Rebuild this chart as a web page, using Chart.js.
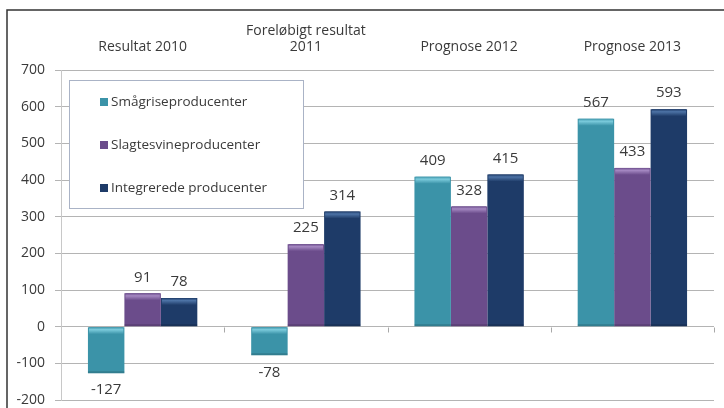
<!DOCTYPE html>
<html>
<head>
<meta charset="utf-8">
<script src="https://cdn.jsdelivr.net/npm/chart.js@4.4.0/dist/chart.umd.min.js"></script>
<style>
  html, body { margin: 0; padding: 0; background: #fff; }
  #wrap { position: relative; width: 724px; height: 408px; }
</style>
</head>
<body>
<div id="wrap"><canvas id="c" width="724" height="408"></canvas></div>
<script>
const categories = ['Resultat 2010', ['Foreløbigt resultat', '2011'], 'Prognose 2012', 'Prognose 2013'];
const seriesNames = ['Smågriseproducenter', 'Slagtesvineproducenter', 'Integrerede producenter'];
const smaagrise = [-127, -78, 409, 567];
const slagtesvine = [91, 225, 328, 433];
const integrerede = [78, 314, 415, 593];
const yTicks = { min: -200, max: 700, step: 100 };
const colors = ['#3b93a8', '#6b4c8b', '#1e3b68'];
const highlights = ['#7ccbdc', '#a588c2', '#4d73a6'];

const FONT = '"Open Sans", "Liberation Sans", sans-serif';
const TEXT = '#3a3a3a';

const framePlugin = {
  id: 'frame',
  beforeDraw(chart) {
    const ctx = chart.ctx;
    ctx.save();
    ctx.fillStyle = '#fff';
    ctx.fillRect(0, 0, chart.width, chart.height);
    ctx.strokeStyle = '#333';
    ctx.lineWidth = 1.5;
    ctx.beginPath();
    ctx.moveTo(7, chart.height);
    ctx.lineTo(7, 10);
    ctx.lineTo(chart.width, 10);
    ctx.stroke();
    ctx.restore();
  },
  afterDatasetsDraw(chart) {
    const ctx = chart.ctx;
    const x = chart.scales.x, y = chart.scales.y;
    const y0 = Math.round(y.getPixelForValue(0)) + 0.5;
    ctx.save();
    chart.data.datasets.forEach((ds, di) => {
      const meta = chart.getDatasetMeta(di);
      meta.data.forEach((bar) => {
        const left = bar.x - bar.width / 2;
        const top = Math.min(bar.y, bar.base);
        const g = ctx.createLinearGradient(0, top, 0, top + 7);
        g.addColorStop(0, colors[di]);
        g.addColorStop(0.35, highlights[di]);
        g.addColorStop(1, colors[di]);
        ctx.fillStyle = g;
        ctx.fillRect(left + 1, top, bar.width - 2, 7);
        const bot = Math.max(bar.y, bar.base);
        ctx.fillStyle = 'rgba(0,0,0,0.15)';
        ctx.fillRect(left, bot - 2, bar.width, 2);
      });
    });
    ctx.strokeStyle = '#a8a8a8';
    ctx.lineWidth = 1;
    const n = categories.length;
    const w = (x.right - x.left) / n;
    ctx.beginPath();
    for (let i = 1; i <= n; i++) {
      const px = Math.round(x.left + i * w) + 0.5;
      ctx.moveTo(px, y0);
      ctx.lineTo(px, y0 + 5);
    }
    ctx.stroke();
    ctx.font = '15px ' + FONT;
    ctx.fillStyle = TEXT;
    ctx.textAlign = 'center';
    ctx.textBaseline = 'middle';
    chart.data.datasets.forEach((ds, di) => {
      const meta = chart.getDatasetMeta(di);
      meta.data.forEach((bar, i) => {
        const v = ds.data[i];
        const yy = v >= 0 ? bar.y - 16 : bar.y + 17;
        ctx.fillText(String(v), bar.x, yy);
      });
    });
    const bx = 69.5, by = 80.5, bw = 234, bh = 128;
    ctx.fillStyle = '#fff';
    ctx.fillRect(bx, by, bw, bh);
    ctx.strokeStyle = '#aab3c6';
    ctx.strokeRect(bx, by, bw, bh);
    const itemY = [102, 145, 188];
    ctx.font = '13.5px ' + FONT;
    ctx.textAlign = 'left';
    chart.data.datasets.forEach((ds, di) => {
      ctx.fillStyle = colors[di];
      ctx.fillRect(100, itemY[di] - 4, 8, 8);
      ctx.fillStyle = TEXT;
      ctx.fillText(ds.label, 111, itemY[di]);
    });
    ctx.restore();
  }
};

new Chart(document.getElementById('c'), {
  type: 'bar',
  data: {
    labels: categories,
    datasets: [
      { label: seriesNames[0], data: smaagrise, backgroundColor: colors[0] },
      { label: seriesNames[1], data: slagtesvine, backgroundColor: colors[1] },
      { label: seriesNames[2], data: integrerede, backgroundColor: colors[2] }
    ]
  },
  options: {
    responsive: false,
    animation: false,
    devicePixelRatio: 1,
    layout: { padding: { left: 0, right: 10, top: 0, bottom: 8 } },
    datasets: { bar: { categoryPercentage: 0.67, barPercentage: 1.0 } },
    plugins: { legend: { display: false }, tooltip: { enabled: false } },
    scales: {
      x: {
        position: 'top',
        grid: { display: false, drawTicks: false },
        border: { display: false },
        ticks: { font: { size: 14, family: FONT, lineHeight: 1.15 }, color: TEXT, padding: 15, maxRotation: 0, autoSkip: false },
        afterFit(scale) { scale.height = 70; scale.paddingLeft = 0; scale.paddingRight = 0; }
      },
      y: {
        min: yTicks.min, max: yTicks.max,
        grid: { color: '#b4b4b4', lineWidth: 1, tickLength: 6 },
        border: { color: '#c8c8c8' },
        ticks: { stepSize: yTicks.step, font: { size: 14, family: FONT }, color: TEXT, padding: 10 },
        afterFit(scale) { scale.width = 61; scale.paddingTop = 0; scale.paddingBottom = 0; }
      }
    }
  },
  plugins: [framePlugin]
});
</script>
</body>
</html>
